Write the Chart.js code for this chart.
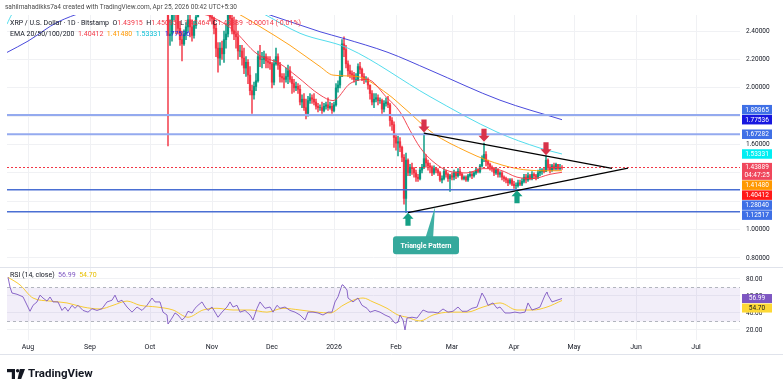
<!DOCTYPE html>
<html>
<head>
<meta charset="utf-8">
<script src="https://cdn.jsdelivr.net/npm/chart.js@4.4.1/dist/chart.umd.min.js"></script>
<style>
  html, body { margin: 0; padding: 0; background: #fff; }
  canvas { display: block; }
</style>
</head>
<body>
<canvas id="chart" width="783" height="388"></canvas>
<script>
// x axis: days counted from 1 Aug 2025
const monthTicks = [0, 31, 61, 92, 122, 153, 184, 212, 243, 273, 304, 334];
const monthLabels = ['Aug', 'Sep', 'Oct', 'Nov', 'Dec', '2026', 'Feb', 'Mar', 'Apr', 'May', 'Jun', 'Jul'];

// daily candles from 10 Oct 2025, each [high, low, close]; open = previous close
const firstDay = 70;
const firstOpen = 2.83;
const oct = [[2.87,1.59,2.37],[2.48,2.30,2.38],[2.58,2.33,2.55],[2.70,2.48,2.62],[2.64,2.38,2.52],[2.58,2.38,2.42],
  [2.47,2.30,2.34],[2.40,2.19,2.31],[2.41,2.30,2.38],[2.46,2.34,2.43],[2.56,2.40,2.48],[2.60,2.36,2.43],
  [2.48,2.33,2.37],[2.47,2.35,2.44],[2.54,2.42,2.50],[2.62,2.53,2.58],[2.68,2.57,2.64],[2.72,2.60,2.65],
  [2.70,2.58,2.62],[2.66,2.57,2.60],[2.68,2.55,2.56],[2.58,2.47,2.50]];
const nov = [[2.54,2.45,2.49],[2.50,2.38,2.42],[2.45,2.22,2.28],[2.32,2.11,2.21],[2.32,2.16,2.28],[2.33,2.20,2.24],
  [2.40,2.18,2.34],[2.45,2.28,2.38],[2.56,2.36,2.52],[2.60,2.44,2.49],[2.58,2.38,2.40],[2.50,2.34,2.38],
  [2.48,2.28,2.36],[2.40,2.20,2.26],[2.30,2.22,2.26],[2.30,2.16,2.21],[2.28,2.10,2.14],[2.22,2.08,2.18],
  [2.20,2.03,2.09],[2.15,1.95,1.98],[2.02,1.82,1.95],[2.04,1.92,2.01],[2.10,1.98,2.05],[2.26,2.04,2.22],
  [2.30,2.15,2.20],[2.25,2.14,2.20],[2.26,2.17,2.22],[2.24,2.14,2.19],[2.22,2.14,2.18],[2.22,2.13,2.17]];
const dec = [[2.18,2.00,2.04],[2.20,2.02,2.17],[2.28,2.16,2.22],[2.24,2.13,2.16],[2.18,2.04,2.08],[2.10,2.04,2.07],
  [2.10,2.00,2.06],[2.14,2.04,2.08],[2.16,2.03,2.12],[2.15,2.04,2.06],[2.08,1.96,2.03],[2.06,1.97,2.00],
  [2.04,1.98,2.01],[2.03,1.96,1.99],[2.02,1.88,1.90],[1.95,1.86,1.92],[1.96,1.84,1.86],[1.92,1.78,1.82],
  [1.94,1.80,1.91],[1.96,1.89,1.93],[1.95,1.89,1.92],[1.96,1.88,1.90],[1.92,1.85,1.87],[1.89,1.83,1.86],
  [1.88,1.84,1.86],[1.90,1.82,1.84],[1.89,1.83,1.87],[1.90,1.85,1.88],[1.93,1.84,1.86],[1.90,1.85,1.87],
  [1.89,1.82,1.84]];
const jan = [[1.90,1.83,1.88],[2.03,1.87,2.00],[2.05,1.97,2.02],[2.12,2.00,2.08],[2.34,2.08,2.31],[2.36,2.22,2.27],
  [2.30,2.14,2.17],[2.19,2.08,2.12],[2.16,2.07,2.10],[2.12,2.06,2.09],[2.11,2.04,2.06],[2.10,2.02,2.06],
  [2.17,2.05,2.15],[2.18,2.10,2.13],[2.14,2.05,2.08],[2.10,2.03,2.06],[2.08,2.04,2.06],[2.07,1.99,2.02],
  [2.02,1.92,1.96],[1.98,1.88,1.90],[1.96,1.86,1.92],[1.96,1.90,1.93],[1.95,1.88,1.91],[1.93,1.89,1.91],
  [1.92,1.82,1.85],[1.91,1.83,1.89],[1.93,1.87,1.90],[1.94,1.86,1.88],[1.89,1.73,1.77],[1.79,1.70,1.74],
  [1.76,1.58,1.65]];
const feb = [[1.67,1.56,1.61],[1.66,1.52,1.62],[1.65,1.55,1.58],[1.59,1.48,1.51],[1.53,1.18,1.22],[1.54,1.12,1.49],
  [1.50,1.38,1.40],[1.46,1.38,1.44],[1.47,1.39,1.43],[1.44,1.37,1.40],[1.42,1.34,1.37],[1.39,1.34,1.36],
  [1.44,1.35,1.42],[1.46,1.40,1.44],[1.68,1.43,1.50],[1.53,1.44,1.47],[1.49,1.42,1.45],[1.47,1.40,1.44],
  [1.45,1.38,1.40],[1.45,1.39,1.43],[1.44,1.40,1.42],[1.43,1.38,1.40],[1.41,1.34,1.35],[1.38,1.33,1.36],
  [1.43,1.35,1.41],[1.42,1.37,1.39],[1.40,1.34,1.36],[1.39,1.27,1.38]];
const mar = [[1.40,1.35,1.37],[1.42,1.35,1.40],[1.41,1.36,1.38],[1.43,1.37,1.41],[1.43,1.38,1.39],[1.40,1.35,1.36],
  [1.38,1.35,1.37],[1.38,1.34,1.35],[1.39,1.34,1.38],[1.41,1.37,1.39],[1.41,1.36,1.38],[1.41,1.37,1.40],
  [1.44,1.39,1.42],[1.43,1.40,1.41],[1.46,1.40,1.45],[1.52,1.44,1.50],[1.61,1.48,1.53],[1.55,1.45,1.48],
  [1.49,1.43,1.46],[1.47,1.42,1.44],[1.45,1.41,1.43],[1.44,1.38,1.40],[1.44,1.39,1.42],[1.43,1.37,1.39],
  [1.41,1.37,1.40],[1.41,1.35,1.37],[1.38,1.34,1.36],[1.37,1.33,1.35],[1.36,1.31,1.33],[1.36,1.32,1.35],
  [1.36,1.31,1.32]];
const apr = [[1.34,1.29,1.31],[1.33,1.28,1.31],[1.35,1.30,1.33],[1.35,1.31,1.32],[1.36,1.31,1.34],[1.39,1.33,1.37],
  [1.39,1.33,1.35],[1.40,1.34,1.38],[1.39,1.35,1.36],[1.41,1.35,1.39],[1.40,1.36,1.38],[1.39,1.35,1.37],
  [1.42,1.36,1.40],[1.43,1.38,1.41],[1.43,1.39,1.42],[1.44,1.40,1.41],[1.52,1.41,1.49],[1.50,1.42,1.44],
  [1.46,1.40,1.42],[1.46,1.41,1.45],[1.47,1.42,1.43],[1.47,1.42,1.46],[1.46,1.42,1.43],[1.46,1.42,1.43915],
  [1.45095,1.42464,1.43889]];
const lastChange = [-0.00014, -0.01]; // absolute, percent

// EMA lines, [day, value]
const ema20 = [[-10,3.2],[40,2.95],[70,2.72],[80,2.56],[92,2.50],[102.5,2.41],[114.5,2.24],[126,2.17],[134.5,2.08],
  [146,1.95],[152.5,1.91],[161,2.03],[169.5,2.06],[179.5,1.93],[186,1.83],[191,1.70],[196,1.58],[202.5,1.48],
  [211,1.41],[219.5,1.40],[227.5,1.43],[236,1.42],[244.5,1.37],[252.5,1.36],[261,1.39],[267,1.40412]];
const ema50 = [[-10,2.75],[70,2.75],[100,2.56],[108,2.50],[116,2.432],[131,2.30],[146,2.15],[152.5,2.09],[164.5,2.08],
  [179.5,1.96],[189.5,1.84],[202.5,1.68],[219.5,1.55],[229.5,1.49],[244.5,1.43],[257.5,1.415],[267,1.41480]];
const ema100 = [[-10.5,2.45],[-8,2.52],[0,2.62],[40,2.78],[70,2.80],[100,2.64],[118,2.52],[136,2.385],[160,2.28],
  [201,1.938],[234.5,1.688],[256,1.575],[267,1.53331]];
const ema200 = [[-10.5,2.25],[0,2.33],[15,2.465],[40,2.58],[70,2.64],[100,2.60],[121,2.514],[146,2.396],[157.5,2.35],
  [180,2.25],[201,2.125],[236,1.913],[267,1.77536]];

// RSI(14) and its average, [day, value]
const rsi = [[-10,82],[-9,70.6],[-8,63.5],[-5.5,62],[-2.5,59],[1,42],[2.5,49],[4.5,53],[6,61],[7.5,57.6],[9.5,54],
  [11,58.8],[12.5,53],[15,53],[17,43],[18.5,47],[20,42],[22,49],[23.5,45.5],[25,49],[27.5,43],[30,41],[32,45],
  [34.5,43],[37,45],[39.5,53],[42,55],[43.5,61],[45,53],[47,55],[49.5,47],[52,41],[54.5,47],[57,43],[59.5,49],
  [62,57.6],[63.5,53],[66,53],[67.5,41],[69.5,37.6],[70,27],[72,34],[73.5,40],[75,37.6],[77,31.8],[78.5,35],
  [80,42],[82,40],[83.5,45.5],[85,49],[87,53],[88.5,47],[90,43],[92,47],[93.5,41],[95,35],[97,41],[99.5,47],
  [101,53],[102.5,47],[104.5,49],[106,41],[108.5,43],[111,37.6],[112.5,31.8],[114.5,45.5],[116,53],[118.5,45.5],
  [121,47],[122.5,41],[124.5,49],[126,45.5],[128.5,47],[131,43],[133.5,41],[136,37.6],[138.5,31.8],[140,41],
  [142.5,41],[145,40],[147.5,37.6],[150,41],[152,41],[153.5,53],[155,59],[157,73],[157.5,73],[159.5,67],[160,57.6],
  [162.5,53],[165,57.6],[167,49],[169.5,45.5],[171,41],[173.5,43],[176,41],[178.5,37.6],[181,35],[183.5,28],
  [185,29],[186,37.6],[187.5,31.8],[188.5,20],[189.5,34],[192,35],[194.5,34],[197.5,43.5],[200,41],[202.5,41],
  [205,40],[207.5,44.7],[210,41],[212.5,42],[215,47],[217,42],[219.5,42],[222,45.5],[224.5,47],[227,63.5],
  [228.5,57.6],[230,49],[232.5,51.8],[234.5,45.5],[236,47],[238.5,40],[241,40],[243.5,41],[246,40],[248.5,41],
  [250,51.8],[252,43.5],[254.5,45.5],[256,47],[258.5,61],[259.5,64.7],[260,61],[262,53],[264.5,55],[267,56.99]];
const rsiMa = [[-10,82],[-4,73],[2.5,57.6],[11,54],[19.5,51.8],[27.5,47],[36,44.7],[42.5,49],[49.5,54],[56,49],
  [64.5,47],[72.5,43.5],[80,35],[87.5,43.5],[94.5,45.5],[102.5,43.5],[111,43.5],[119.5,41],[127.5,45.5],[136,43.5],
  [144.5,41],[151,40],[157.5,49],[162.5,55],[167.5,57.6],[172.5,53],[179.5,45.5],[185,37.6],[189.5,35],[196,30.6],
  [202.5,37.6],[211,41],[219.5,41],[227.5,47],[236,51.8],[244.5,43.5],[252.5,43.5],[259.5,47],[267,54.70]];
const rsiBand = [30, 70];

// drawings
const levels = [1.80865, 1.67282, 1.28040, 1.12517];
const upperTrend = [[198, 1.68], [292, 1.432]];
const lowerTrend = [[190, 1.12], [300, 1.433]];
const downArrows = [[198, 1.685], [228, 1.62], [259, 1.525]];
const upArrows = [[190, 1.118], [244.5, 1.278]];
const calloutTip = [203.5, 1.16];
const calloutLabel = [199, 0.889];

const UP = '#089981', DOWN = '#f23645';
const TEXT = '#131722';
const FONT = 'Roboto, "Noto Sans", sans-serif';

// build candles
const candles = [];
let day = firstDay, prevClose = firstOpen;
[oct, nov, dec, jan, feb, mar, apr].forEach(m => m.forEach(([h, l, c]) => {
  candles.push({ x: day, o: prevClose, h, l, c });
  prevClose = c;
  day++;
}));
const last = candles[candles.length - 1];
const candleColor = ctx => {
  const k = candles[ctx.dataIndex];
  return k && k.c >= k.o ? UP : DOWN;
};
const pts = arr => arr.map(([x, y]) => ({ x, y }));
const lastOf = arr => arr[arr.length - 1][1];

function runs(ctx, x, y, parts) {
  parts.forEach(([t, col]) => {
    ctx.fillStyle = col;
    ctx.fillText(t, x, y);
    x += ctx.measureText(t).width;
  });
}

// stack the axis tags so they don't overlap (list is ordered top to bottom)
function placeTags(tags) {
  for (let it = 0; it < 60; it++) {
    for (let i = 0; i < tags.length - 1; i++) {
      const a = tags[i], b = tags[i + 1];
      const gap = a.h / 2 + b.h / 2 + 0.5;
      const d = gap - (b.y - a.y);
      if (d > 0) {
        if (a.fixed && !b.fixed) b.y += d;
        else if (b.fixed && !a.fixed) a.y -= d;
        else { a.y -= d / 2; b.y += d / 2; }
      }
    }
  }
}

function drawTags(ctx, tags) {
  ctx.font = '6.5px ' + FONT;
  ctx.textAlign = 'center';
  ctx.textBaseline = 'middle';
  tags.forEach(t => {
    ctx.fillStyle = t.bg;
    ctx.fillRect(742, t.y - t.h / 2, 30, t.h);
    ctx.fillStyle = t.fg;
    if (t.sub) {
      ctx.fillText(t.text, 757, t.y - 4);
      ctx.fillText(t.sub, 757, t.y + 4);
    } else {
      ctx.fillText(t.text, 757, t.y + 0.3);
    }
  });
}

function arrow(ctx, x, tip, dir, color) {
  // dir 1: pointing down, -1: pointing up
  ctx.fillStyle = color;
  ctx.beginPath();
  ctx.moveTo(x, tip);
  ctx.lineTo(x - 5.5, tip - dir * 6);
  ctx.lineTo(x - 2.6, tip - dir * 6);
  ctx.lineTo(x - 2.6, tip - dir * 13);
  ctx.lineTo(x + 2.6, tip - dir * 13);
  ctx.lineTo(x + 2.6, tip - dir * 6);
  ctx.lineTo(x + 5.5, tip - dir * 6);
  ctx.closePath();
  ctx.fill();
}

const overlay = {
  id: 'overlay',
  beforeDatasetsDraw(chart) {
    const { ctx, chartArea: a, scales: { yr } } = chart;
    ctx.save();
    const yTop = yr.getPixelForValue(rsiBand[1]), yBot = yr.getPixelForValue(rsiBand[0]);
    ctx.fillStyle = 'rgba(126, 87, 194, 0.1)';
    ctx.fillRect(a.left, yTop, a.right - a.left, yBot - yTop);
    ctx.strokeStyle = '#b2b5be';
    ctx.lineWidth = 1;
    ctx.setLineDash([3, 3]);
    [yTop, yBot].forEach(yy => {
      ctx.beginPath(); ctx.moveTo(a.left, Math.round(yy) + 0.5); ctx.lineTo(a.right, Math.round(yy) + 0.5); ctx.stroke();
    });
    ctx.setLineDash([]);
    ctx.strokeStyle = '#e0e3eb';
    ctx.beginPath(); ctx.moveTo(0, Math.round(yr.top) + 0.5); ctx.lineTo(783, Math.round(yr.top) + 0.5); ctx.stroke();
    ctx.restore();
  },
  afterDatasetsDraw(chart) {
    const { ctx, chartArea: a, scales: { x, y } } = chart;
    const px = p => [x.getPixelForValue(p[0]), y.getPixelForValue(p[1])];
    ctx.save();
    // horizontal levels
    levels.forEach((lv, i) => {
      const yy = y.getPixelForValue(lv);
      ctx.strokeStyle = i < 2 ? '#94aaef' : '#4a6fd3';
      ctx.lineWidth = i < 2 ? 2 : 1.5;
      ctx.beginPath(); ctx.moveTo(a.left, yy); ctx.lineTo(a.right, yy); ctx.stroke();
    });
    // last price line
    const yp = Math.round(y.getPixelForValue(last.c)) + 0.5;
    ctx.strokeStyle = DOWN;
    ctx.lineWidth = 1;
    ctx.setLineDash([2, 2]);
    ctx.beginPath(); ctx.moveTo(a.left, yp); ctx.lineTo(a.right, yp); ctx.stroke();
    ctx.setLineDash([]);
    // triangle
    ctx.strokeStyle = '#000';
    ctx.lineWidth = 1.2;
    [upperTrend, lowerTrend].forEach(seg => {
      const p0 = px(seg[0]), p1 = px(seg[1]);
      ctx.beginPath(); ctx.moveTo(p0[0], p0[1]); ctx.lineTo(p1[0], p1[1]); ctx.stroke();
    });
    downArrows.forEach(p => { const q = px(p); arrow(ctx, q[0], q[1], 1, '#d8334a'); });
    upArrows.forEach(p => { const q = px(p); arrow(ctx, q[0], q[1], -1, '#14a085'); });
    // callout
    const tip = px(calloutTip), lab = px(calloutLabel);
    ctx.fillStyle = '#3fb0a4';
    ctx.beginPath();
    ctx.moveTo(tip[0], tip[1]);
    ctx.lineTo(lab[0] + 7, lab[1] - 6);
    ctx.lineTo(lab[0] - 1, lab[1] - 6);
    ctx.closePath();
    ctx.fill();
    ctx.fillStyle = '#35a99c';
    ctx.beginPath();
    ctx.roundRect(lab[0] - 33, lab[1] - 9, 66, 18, 3);
    ctx.fill();
    ctx.fillStyle = '#fff';
    ctx.font = 'bold 7px ' + FONT;
    ctx.textAlign = 'center';
    ctx.textBaseline = 'middle';
    ctx.fillText('Triangle Pattern', lab[0], lab[1] + 0.5);
    ctx.restore();
  },
  afterDraw(chart) {
    const { ctx, scales: { y, yr } } = chart;
    ctx.save();
    // price axis tags, highest value first
    const tags = [
      { v: levels[0], bg: '#3f70e6', fg: '#fff' },
      { v: lastOf(ema200), bg: '#1717e0', fg: '#fff', fixed: true },
      { v: levels[1], bg: '#3f70e6', fg: '#fff' },
      { v: lastOf(ema100), bg: '#00eef2', fg: '#fff' },
      { v: last.c, bg: '#f0475c', fg: '#fff', fixed: true, sub: '04:47:25' },
      { v: lastOf(ema50), bg: '#ff9800', fg: '#fff' },
      { v: lastOf(ema20), bg: '#ff1a1a', fg: '#fff' },
      { v: levels[2], bg: '#3f70e6', fg: '#fff' },
      { v: levels[3], bg: '#3f70e6', fg: '#fff' }
    ].map(t => {
      const h = t.sub ? 17 : 9.5;
      const yy = y.getPixelForValue(t.v) + (t.sub ? 4 : 0);
      return Object.assign(t, { h, y: yy, text: t.v.toFixed(5) });
    });
    placeTags(tags);
    drawTags(ctx, tags);
    const rtags = [
      { v: lastOf(rsi), bg: '#7e57c2', fg: '#fff', fixed: true },
      { v: lastOf(rsiMa), bg: '#fdd835', fg: TEXT }
    ].map(t => Object.assign(t, { h: 9, y: yr.getPixelForValue(t.v), text: t.v.toFixed(2) }));
    placeTags(rtags);
    drawTags(ctx, rtags);

    // header
    ctx.textAlign = 'left';
    ctx.textBaseline = 'middle';
    ctx.font = '6.5px ' + FONT;
    ctx.fillStyle = '#4a4a4a';
    ctx.fillText('sahilmahadikks7a4 created with TradingView.com, Apr 25, 2026 00:42 UTC+5:30', 5, 7.5);
    ctx.font = '7px ' + FONT;
    runs(ctx, 10, 23, [
      ['XRP / U.S. Dollar · 1D · Bitstamp  ', TEXT],
      ['O', TEXT], [last.o.toFixed(5), DOWN],
      ['  H', TEXT], [last.h.toFixed(5), DOWN],
      ['  L', TEXT], [last.l.toFixed(5), DOWN],
      ['  C', TEXT], [last.c.toFixed(5), DOWN],
      ['  ' + lastChange[0].toFixed(5) + ' (' + lastChange[1].toFixed(2) + '%)', DOWN]
    ]);
    runs(ctx, 10, 34, [
      ['EMA 20/50/100/200  ', TEXT],
      [lastOf(ema20).toFixed(5) + '  ', DOWN],
      [lastOf(ema50).toFixed(5) + '  ', '#ff9800'],
      [lastOf(ema100).toFixed(5) + '  ', '#00bcd4'],
      [lastOf(ema200).toFixed(5), '#2424e0']
    ]);
    runs(ctx, 10, 275, [
      ['RSI (14, close)  ', TEXT],
      [lastOf(rsi).toFixed(2) + '  ', '#7e57c2'],
      [lastOf(rsiMa).toFixed(2), '#e8bf00']
    ]);

    // bottom border of time axis
    ctx.strokeStyle = '#e0e3eb';
    ctx.lineWidth = 1;
    ctx.beginPath(); ctx.moveTo(0, 354.5); ctx.lineTo(783, 354.5); ctx.stroke();

    // footer logo
    ctx.fillStyle = TEXT;
    ctx.fillRect(7, 369, 8, 3.2);
    ctx.fillRect(11.8, 369, 3.2, 10);
    ctx.beginPath(); ctx.arc(17.6, 370.7, 1.7, 0, Math.PI * 2); ctx.fill();
    ctx.beginPath();
    ctx.moveTo(19.8, 369); ctx.lineTo(25, 369); ctx.lineTo(21.2, 379); ctx.lineTo(17.6, 379);
    ctx.closePath(); ctx.fill();
    ctx.font = 'bold 11.5px ' + FONT;
    ctx.fillText('TradingView', 28, 374.5);
    ctx.restore();
  }
};

Chart.defaults.font.family = FONT;
Chart.defaults.font.size = 7;
Chart.defaults.color = TEXT;

const gridColor = '#f0f1f4';
new Chart(document.getElementById('chart'), {
  type: 'bar',
  data: {
    datasets: [
      { type: 'line', label: 'EMA 20', data: pts(ema20), borderColor: '#f23645', borderWidth: 0.9,
        pointRadius: 0, cubicInterpolationMode: 'monotone', yAxisID: 'y', order: 1 },
      { type: 'line', label: 'EMA 50', data: pts(ema50), borderColor: '#ff9800', borderWidth: 0.9,
        pointRadius: 0, cubicInterpolationMode: 'monotone', yAxisID: 'y', order: 1 },
      { type: 'line', label: 'EMA 100', data: pts(ema100), borderColor: '#3fd8ea', borderWidth: 0.9,
        pointRadius: 0, cubicInterpolationMode: 'monotone', yAxisID: 'y', order: 1 },
      { type: 'line', label: 'EMA 200', data: pts(ema200), borderColor: '#3535d8', borderWidth: 0.9,
        pointRadius: 0, cubicInterpolationMode: 'monotone', yAxisID: 'y', order: 1 },
      { label: 'wick', data: candles.map(k => ({ x: k.x, y: [k.l, k.h] })), backgroundColor: candleColor,
        barThickness: 0.8, grouped: false, yAxisID: 'y', order: 3 },
      { label: 'body', data: candles.map(k => ({ x: k.x, y: [k.o, k.c] })), backgroundColor: candleColor,
        barThickness: 1.6, grouped: false, yAxisID: 'y', order: 2 },
      { type: 'line', label: 'RSI', data: pts(rsi), borderColor: '#7e57c2', borderWidth: 0.9,
        pointRadius: 0, tension: 0, yAxisID: 'yr', order: 1 },
      { type: 'line', label: 'RSI MA', data: pts(rsiMa), borderColor: '#f7c61e', borderWidth: 0.9,
        pointRadius: 0, cubicInterpolationMode: 'monotone', yAxisID: 'yr', order: 1 }
    ]
  },
  options: {
    responsive: false,
    animation: false,
    events: [],
    layout: { padding: { left: 7, top: 15, right: 0, bottom: 34 } },
    plugins: { legend: { display: false }, tooltip: { enabled: false } },
    scales: {
      x: {
        type: 'linear', min: -10.5, max: 356, offset: false,
        afterBuildTicks: s => { s.ticks = monthTicks.map(v => ({ value: v })); },
        ticks: { callback: v => monthLabels[monthTicks.indexOf(v)], padding: 3, maxRotation: 0, autoSkip: false },
        grid: { color: gridColor, drawTicks: false, offset: false },
        border: { display: false },
        afterFit: s => { s.height = 14; }
      },
      y: {
        type: 'linear', position: 'right', stack: 'pane', stackWeight: 252,
        min: 0.736, max: 2.514, beginAtZero: false,
        ticks: {
          stepSize: 0.2, includeBounds: false, padding: 6, font: { size: 6.5 },
          callback: v => [1.2, 1.4, 1.8].some(h => Math.abs(h - v) < 1e-6) ? '' : Number(v).toFixed(5)
        },
        grid: { color: gridColor, drawTicks: false },
        border: { display: false },
        afterFit: s => { s.width = 43; }
      },
      yr: {
        type: 'linear', position: 'right', stack: 'pane', stackWeight: 73,
        min: 8.2, max: 94.1, beginAtZero: false,
        ticks: { stepSize: 20, includeBounds: false, padding: 6, font: { size: 6.5 }, callback: v => Number(v).toFixed(2) },
        grid: { color: gridColor, drawTicks: false },
        border: { display: false },
        afterFit: s => { s.width = 43; }
      }
    }
  },
  plugins: [overlay]
});
</script>
</body>
</html>
